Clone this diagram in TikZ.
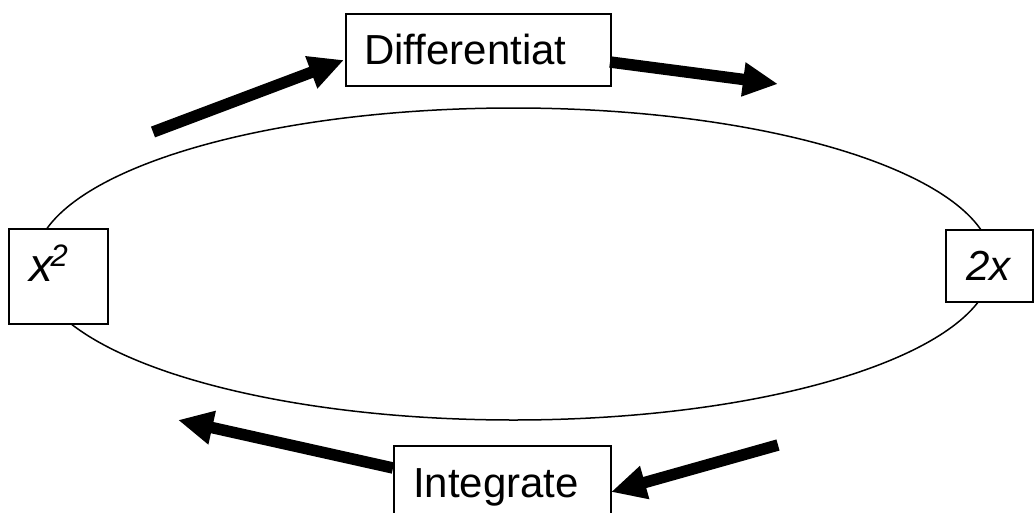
\documentclass[tikz,border=0pt]{standalone}
\usepackage{fontspec}
\setmainfont{Liberation Sans}
\usetikzlibrary{arrows.meta}
\begin{document}
\begin{tikzpicture}[x=1pt,y=-1pt,
  box/.style={draw, line width=2pt, fill=white, inner sep=0pt, anchor=north west},
  lbl/.style={anchor=base west, inner sep=0pt, font=\fontsize{42}{50}\selectfont},
  bigarrow/.style={line width=11.5pt, -{Triangle[length=35pt,width=32pt]}}]
\useasboundingbox (0,0) rectangle (1034,512);
\clip (0,0) rectangle (1034,512);
% cycle
\draw[line width=1.5pt] (513.5,264) ellipse [x radius=479, y radius=156];
% boxes
\node[box, minimum width=99pt, minimum height=95pt] (xsq) at (8,228) {};
\node[box, minimum width=87pt, minimum height=72pt] (twox) at (945,229) {};
\node[box, minimum width=265pt, minimum height=72pt] (diff) at (345,13) {};
\node[box, minimum width=217pt, minimum height=90pt] (integ) at (393,445) {};
% labels
\node[lbl, font=\fontsize{47}{50}\selectfont\itshape] (xlbl) at (29,281)
  {x\kern-2pt\raisebox{15pt}{\fontsize{31}{36}\selectfont 2}};
\node[lbl, font=\fontsize{42}{50}\selectfont\itshape] (twolbl) at (966,280) {2x};
\node[lbl] (difflbl) at (364,64) {Differentiat};
\node[lbl] (integlbl) at (413,497) {Integrate};
% arrow end points
\coordinate (a1s) at (153,132);
\coordinate (a1e) at (344,60);
\coordinate (a2s) at (610,62);
\coordinate (a2e) at (778,84);
\coordinate (a3s) at (393,468);
\coordinate (a3e) at (178,420);
\coordinate (a4s) at (778,445);
\coordinate (a4e) at (611,492);
\draw[bigarrow] (a1s) -- (a1e);
\draw[bigarrow] (a2s) -- (a2e);
\draw[bigarrow] (a3s) -- (a3e);
\draw[bigarrow] (a4s) -- (a4e);
\end{tikzpicture}
\end{document}
